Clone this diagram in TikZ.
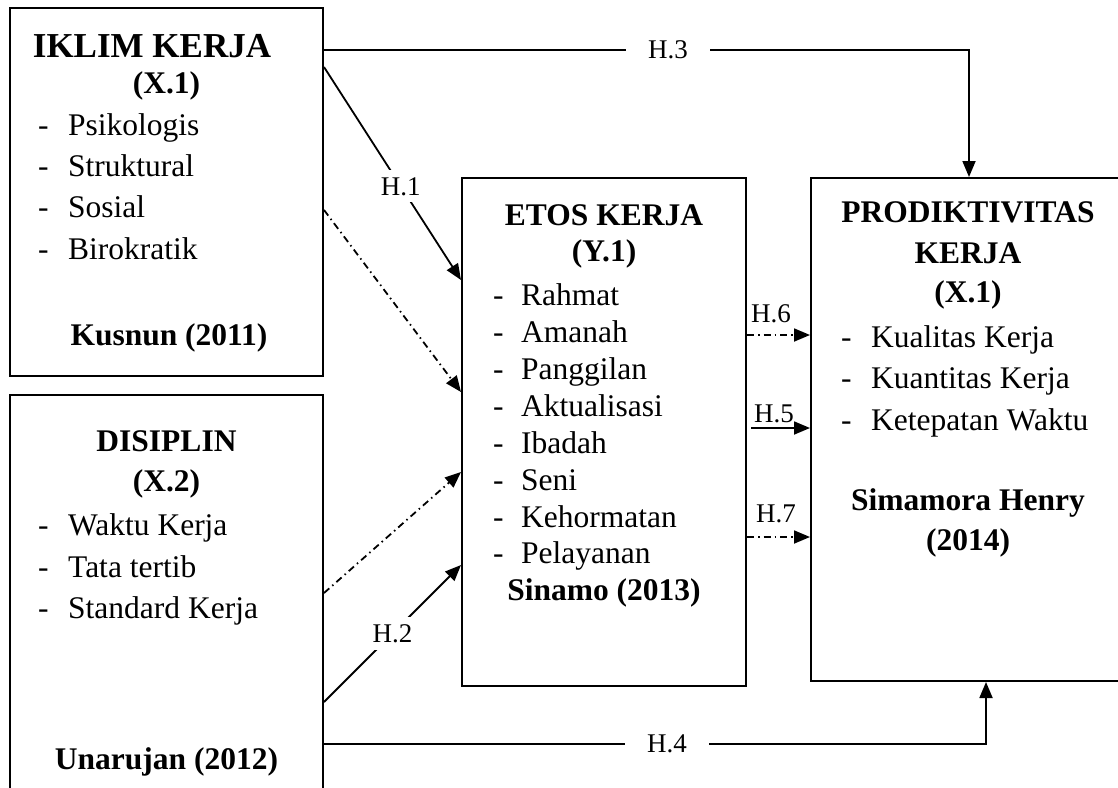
\documentclass[tikz,border=0pt]{standalone}
\usepackage{fontspec}
\setmainfont{Liberation Serif}
\usetikzlibrary{arrows.meta}
\begin{document}
\begin{tikzpicture}[x=1pt,y=-1pt,
  box/.style={draw, line width=2pt, inner sep=0pt},
  ttl/.style={font=\fontsize{31.5}{36}\selectfont\bfseries, inner sep=0pt, anchor=base},
  bigttl/.style={font=\fontsize{35}{40}\selectfont\bfseries, inner sep=0pt, anchor=base},
  itm/.style={font=\fontsize{31.5}{36}\selectfont, inner sep=0pt, anchor=base west},
  lbl/.style={font=\fontsize{27}{30}\selectfont, inner sep=0pt},
  conn/.style={line width=1.8pt},
  arr/.style={conn, -{Triangle[length=16pt,width=13pt]}},
  dd/.style={dash pattern=on 7pt off 4pt on 1.5pt off 4pt}
]
\useasboundingbox (0,0) rectangle (1118,787);
\clip (0,0) rectangle (1118,787);

% boxes
\node[box, minimum width=313pt, minimum height=368pt] (iklim) at (166.5,192) {};
\node[box, minimum width=313pt, minimum height=400pt] (disiplin) at (166.5,595) {};
\node[box, minimum width=284pt, minimum height=508pt] (etos) at (604,432) {};
\node[box, minimum width=320pt, minimum height=503pt] (prod) at (971,429.5) {};

% IKLIM KERJA
\node[bigttl] (t1a) at (152,57) {IKLIM KERJA};
\node[ttl] (t1b) at (166.5,93) {(X.1)};
\node[itm] (i1a) at (38,135) {\makebox[30pt][l]{-}Psikologis};
\node[itm] (i1b) at (38,176) {\makebox[30pt][l]{-}Struktural};
\node[itm] (i1c) at (38,217) {\makebox[30pt][l]{-}Sosial};
\node[itm] (i1d) at (38,259) {\makebox[30pt][l]{-}Birokratik};
\node[ttl] (t1c) at (169,345) {Kusnun (2011)};

% DISIPLIN
\node[ttl] (t2a) at (166.5,451) {DISIPLIN};
\node[ttl] (t2b) at (166.5,491) {(X.2)};
\node[itm] (i2a) at (38,535) {\makebox[30pt][l]{-}Waktu Kerja};
\node[itm] (i2b) at (38,577) {\makebox[30pt][l]{-}Tata tertib};
\node[itm] (i2c) at (38,618) {\makebox[30pt][l]{-}Standard Kerja};
\node[ttl] (t2c) at (166.5,769) {Unarujan (2012)};

% ETOS KERJA
\node[ttl] (t3a) at (604,225) {ETOS KERJA};
\node[ttl] (t3b) at (604,261) {(Y.1)};
\node[itm] (i3a) at (493,305) {\makebox[28pt][l]{-}Rahmat};
\node[itm] (i3b) at (493,342) {\makebox[28pt][l]{-}Amanah};
\node[itm] (i3c) at (493,379) {\makebox[28pt][l]{-}Panggilan};
\node[itm] (i3d) at (493,416) {\makebox[28pt][l]{-}Aktualisasi};
\node[itm] (i3e) at (493,453) {\makebox[28pt][l]{-}Ibadah};
\node[itm] (i3f) at (493,490) {\makebox[28pt][l]{-}Seni};
\node[itm] (i3g) at (493,527) {\makebox[28pt][l]{-}Kehormatan};
\node[itm] (i3h) at (493,563) {\makebox[28pt][l]{-}Pelayanan};
\node[ttl] (t3c) at (604,600) {Sinamo (2013)};

% PRODIKTIVITAS KERJA
\node[ttl] (t4a) at (968,222) {PRODIKTIVITAS};
\node[ttl] (t4b) at (968,263) {KERJA};
\node[ttl] (t4c) at (968,302) {(X.1)};
\node[itm] (i4a) at (841,347) {\makebox[30pt][l]{-}Kualitas Kerja};
\node[itm] (i4b) at (841,388) {\makebox[30pt][l]{-}Kuantitas Kerja};
\node[itm] (i4c) at (841,430) {\makebox[30pt][l]{-}Ketepatan Waktu};
\node[ttl] (t4d) at (968,510) {Simamora Henry};
\node[ttl] (t4e) at (968,550) {(2014)};

% connectors
\draw[arr] (iklim.east |- 0,50) -| (prod.north -| 969,0);
\node[lbl, fill=white, inner xsep=22pt, inner ysep=6pt] (l3) at (668,50) {H.3};

\draw[arr] (disiplin.east |- 0,744) -| (prod.south -| 986,0);
\node[lbl, fill=white, inner xsep=22pt, inner ysep=6pt] (l4) at (667,744) {H.4};

\draw[arr] (iklim.east |- 0,67) -- node[lbl, fill=white, pos=0.56, inner sep=7pt] (l1) {H.1} (etos.west |- 0,280);
\draw[arr, dd] (iklim.east |- 0,210) -- (etos.west |- 0,392);
\draw[arr, dd] (disiplin.east |- 0,593) -- (etos.west |- 0,472);
\draw[arr] (disiplin.east |- 0,702) -- node[lbl, fill=white, pos=0.5, inner sep=7pt] (l2) {H.2} (etos.west |- 0,565);

\draw[arr, dd] (etos.east |- 0,335) -- (prod.west |- 0,335);
\node[lbl] (l6) at (771,314) {H.6};
\draw[arr] ([xshift=4pt]etos.east |- 0,428) -- (prod.west |- 0,428);
\node[lbl] (l5) at (774,414) {H.5};
\draw[arr, dd] (etos.east |- 0,537) -- (prod.west |- 0,537);
\node[lbl] (l7) at (776,514) {H.7};
\end{tikzpicture}
\end{document}
